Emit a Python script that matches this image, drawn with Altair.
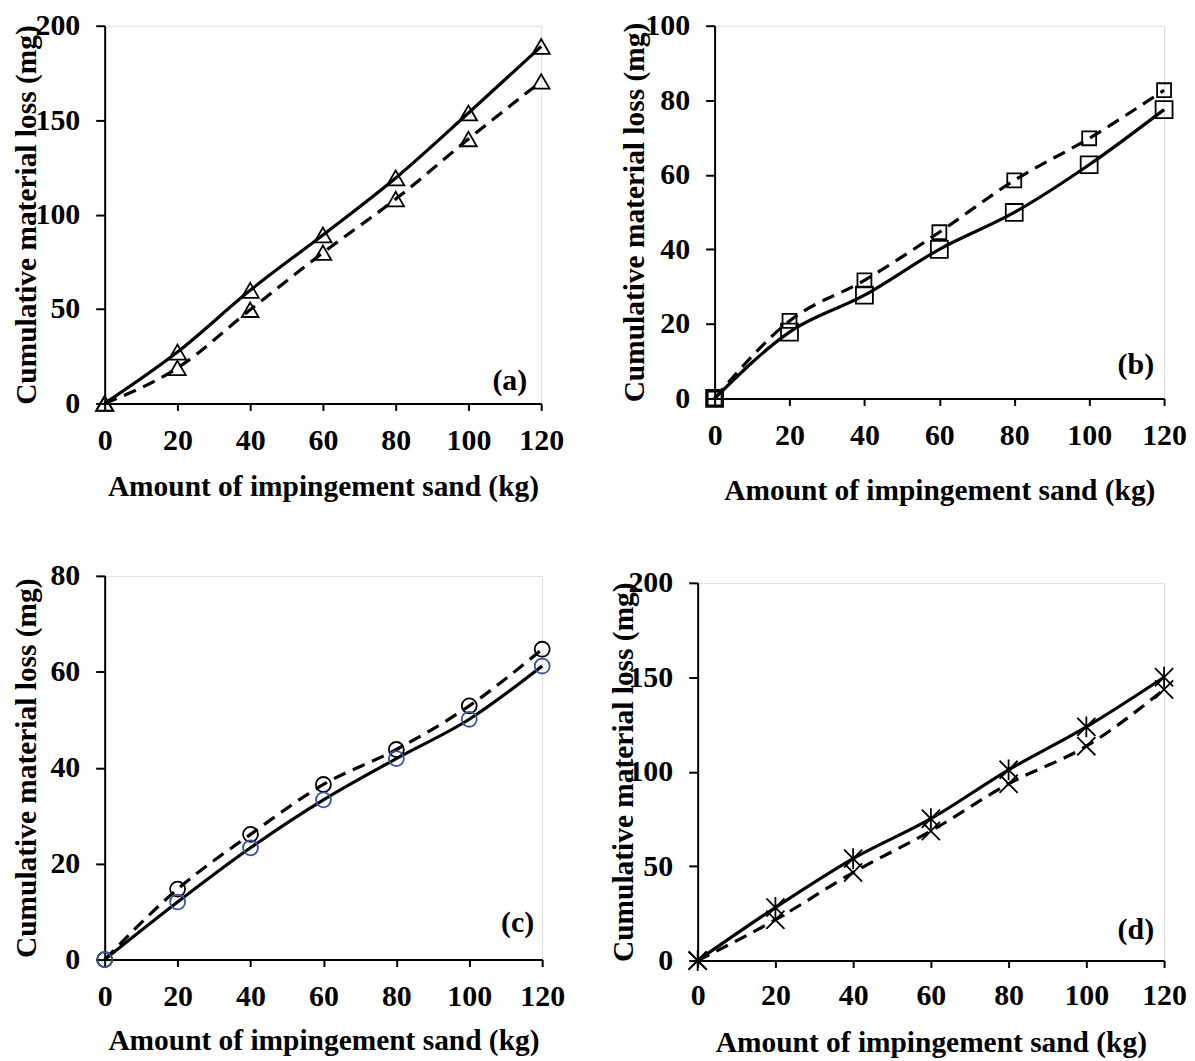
import altair as alt
import pandas as pd

# ---------------- data ----------------
sand = [0, 20, 40, 60, 80, 100, 120]

a_solid = [0, 27.2, 59.9, 89.2, 119.4, 153.8, 189.0]
a_dashed = [0, 18.8, 49.6, 79.8, 108.2, 140.0, 170.5]
b_solid = [0, 17.8, 27.7, 40.0, 49.9, 62.7, 77.5]
b_dashed = [0, 20.8, 31.7, 44.6, 58.5, 69.8, 82.7]
c_solid = [0, 12.0, 23.3, 33.3, 41.9, 50.1, 61.2]
c_dashed = [0, 14.7, 26.1, 36.5, 43.8, 52.9, 64.7]
d_solid = [0, 28.1, 54.0, 75.1, 101.0, 123.7, 150.0]
d_dashed = [0, 21.6, 46.6, 68.6, 93.6, 113.5, 143.5]

x_ticks = [0, 20, 40, 60, 80, 100, 120]
a_ticks = [0, 50, 100, 150, 200]
b_ticks = [0, 20, 40, 60, 80, 100]
c_ticks = [0, 20, 40, 60, 80]
d_ticks = [0, 50, 100, 150, 200]

panel_labels = ["(a)", "(b)", "(c)", "(d)"]
x_title = "Amount of impingement sand (kg)"
y_title = "Cumulative material loss (mg)"

FONT = "Liberation Serif"
LABEL_SIZE = 30
STAR = "M-1,-1L1,1M-1,1L1,-1M0,-1.15L0,1.15"
XMARK = "M-1,-1L1,1M-1,1L1,-1"


def panel(solid, dashed, y_ticks, label, w, h, ytx, yty_shift, xty, xlp,
          s_shape, s_size, s_color, d_shape, d_size, d_color,
          lab_dx, lab_dy):
    df = pd.DataFrame({"sand": sand, "solid": solid, "dashed": dashed})
    xaxis = alt.Axis(
        values=x_ticks, title=x_title, titleX=w / 2, titleY=xty,
        titleBaseline="middle", titleAlign="center", titleAngle=0,
        titleFont=FONT, titleFontSize=29.5, titleFontWeight="bold", titleColor="black",
        labelFont=FONT, labelFontSize=LABEL_SIZE, labelFontWeight="bold", labelColor="black",
        labelBaseline="middle", labelPadding=xlp, labelFlush=False, labelOverlap=False,
        tickSize=7, tickWidth=2, tickColor="black",
        domainColor="black", domainWidth=2, grid=False,
    )
    yaxis = alt.Axis(
        values=y_ticks, title=y_title, titleX=ytx, titleY=h / 2 + yty_shift,
        titleBaseline="middle", titleAlign="center", titleAngle=270,
        titleFont=FONT, titleFontSize=29.5, titleFontWeight="bold", titleColor="black",
        labelFont=FONT, labelFontSize=LABEL_SIZE, labelFontWeight="bold", labelColor="black",
        labelBaseline="middle", labelAlign="right", labelPadding=16,
        labelFlush=False, labelOverlap=False,
        tickSize=9, tickWidth=2, tickColor="black",
        domainColor="black", domainWidth=2, grid=False,
    )
    ymax = y_ticks[-1]
    x = alt.X("sand:Q", scale=alt.Scale(domain=[0, 120], nice=False, zero=False), axis=xaxis)
    ys = alt.Y("solid:Q", scale=alt.Scale(domain=[0, ymax], nice=False), axis=yaxis)
    yd = alt.Y("dashed:Q", scale=alt.Scale(domain=[0, ymax], nice=False), axis=yaxis)

    base = alt.Chart(df)
    line_s = base.mark_line(color="black", strokeWidth=3.2, interpolate="monotone").encode(x=x, y=ys)
    line_d = base.mark_line(color="black", strokeWidth=3.2, strokeDash=[13, 8],
                            interpolate="monotone").encode(x=x, y=yd)
    pts_d = base.mark_point(shape=d_shape, size=d_size, filled=False, color=d_color,
                            strokeWidth=1.8, opacity=1).encode(x=x, y=yd)
    pts_s = base.mark_point(shape=s_shape, size=s_size, filled=False, color=s_color,
                            strokeWidth=1.8, opacity=1).encode(x=x, y=ys)
    lab = alt.Chart(alt.Data(values=[{"t": label}])).mark_text(
        align="right", baseline="alphabetic", font=FONT, fontSize=LABEL_SIZE,
        fontWeight="bold", color="black"
    ).encode(x=alt.value(w - lab_dx), y=alt.value(h - lab_dy), text="t:N")
    return alt.layer(line_s, line_d, pts_d, pts_s, lab).properties(width=w, height=h)


pa = panel(a_solid, a_dashed, a_ticks, panel_labels[0], 438, 379, -78, 0, 83, 30,
           "triangle-up", 300, "black", "triangle-up", 280, "black", 14, 13)
pb = panel(b_solid, b_dashed, b_ticks, panel_labels[1], 451, 374, -80, 0, 92, 30,
           "square", 289, "black", "square", 196, "black", 10, 25)
pc = panel(c_solid, c_dashed, c_ticks, panel_labels[2], 439, 385, -78, 0, 81, 30,
           "circle", 225, "#34569C", "circle", 225, "black", 8, 28)
pd_ = panel(d_solid, d_dashed, d_ticks, panel_labels[3], 468, 379, -74, 0, 82, 28,
            STAR, 330, "black", XMARK, 330, "black", 10, 22)

# small invisible block that lowers panel (d) relative to panel (c)
gap = alt.Chart(alt.Data(values=[{"v": 0}])).mark_point(opacity=0).encode(
    x=alt.value(0), y=alt.value(0)
).properties(width=1, height=7, view=alt.ViewBackground(strokeOpacity=0))
d_col = alt.vconcat(gap, pd_, spacing=0, bounds="flush")

row1 = alt.hconcat(pa, pb, spacing=55)
row2 = alt.hconcat(pc, d_col, spacing=43)
chart = alt.vconcat(row1, row2, spacing=55).properties(
    padding={"left": 3, "top": 0, "right": 0, "bottom": 0}
).configure_view(stroke="black", strokeWidth=2).configure(background="white")

chart.save("out.html", embed_options={"renderer": "svg", "actions": False})
